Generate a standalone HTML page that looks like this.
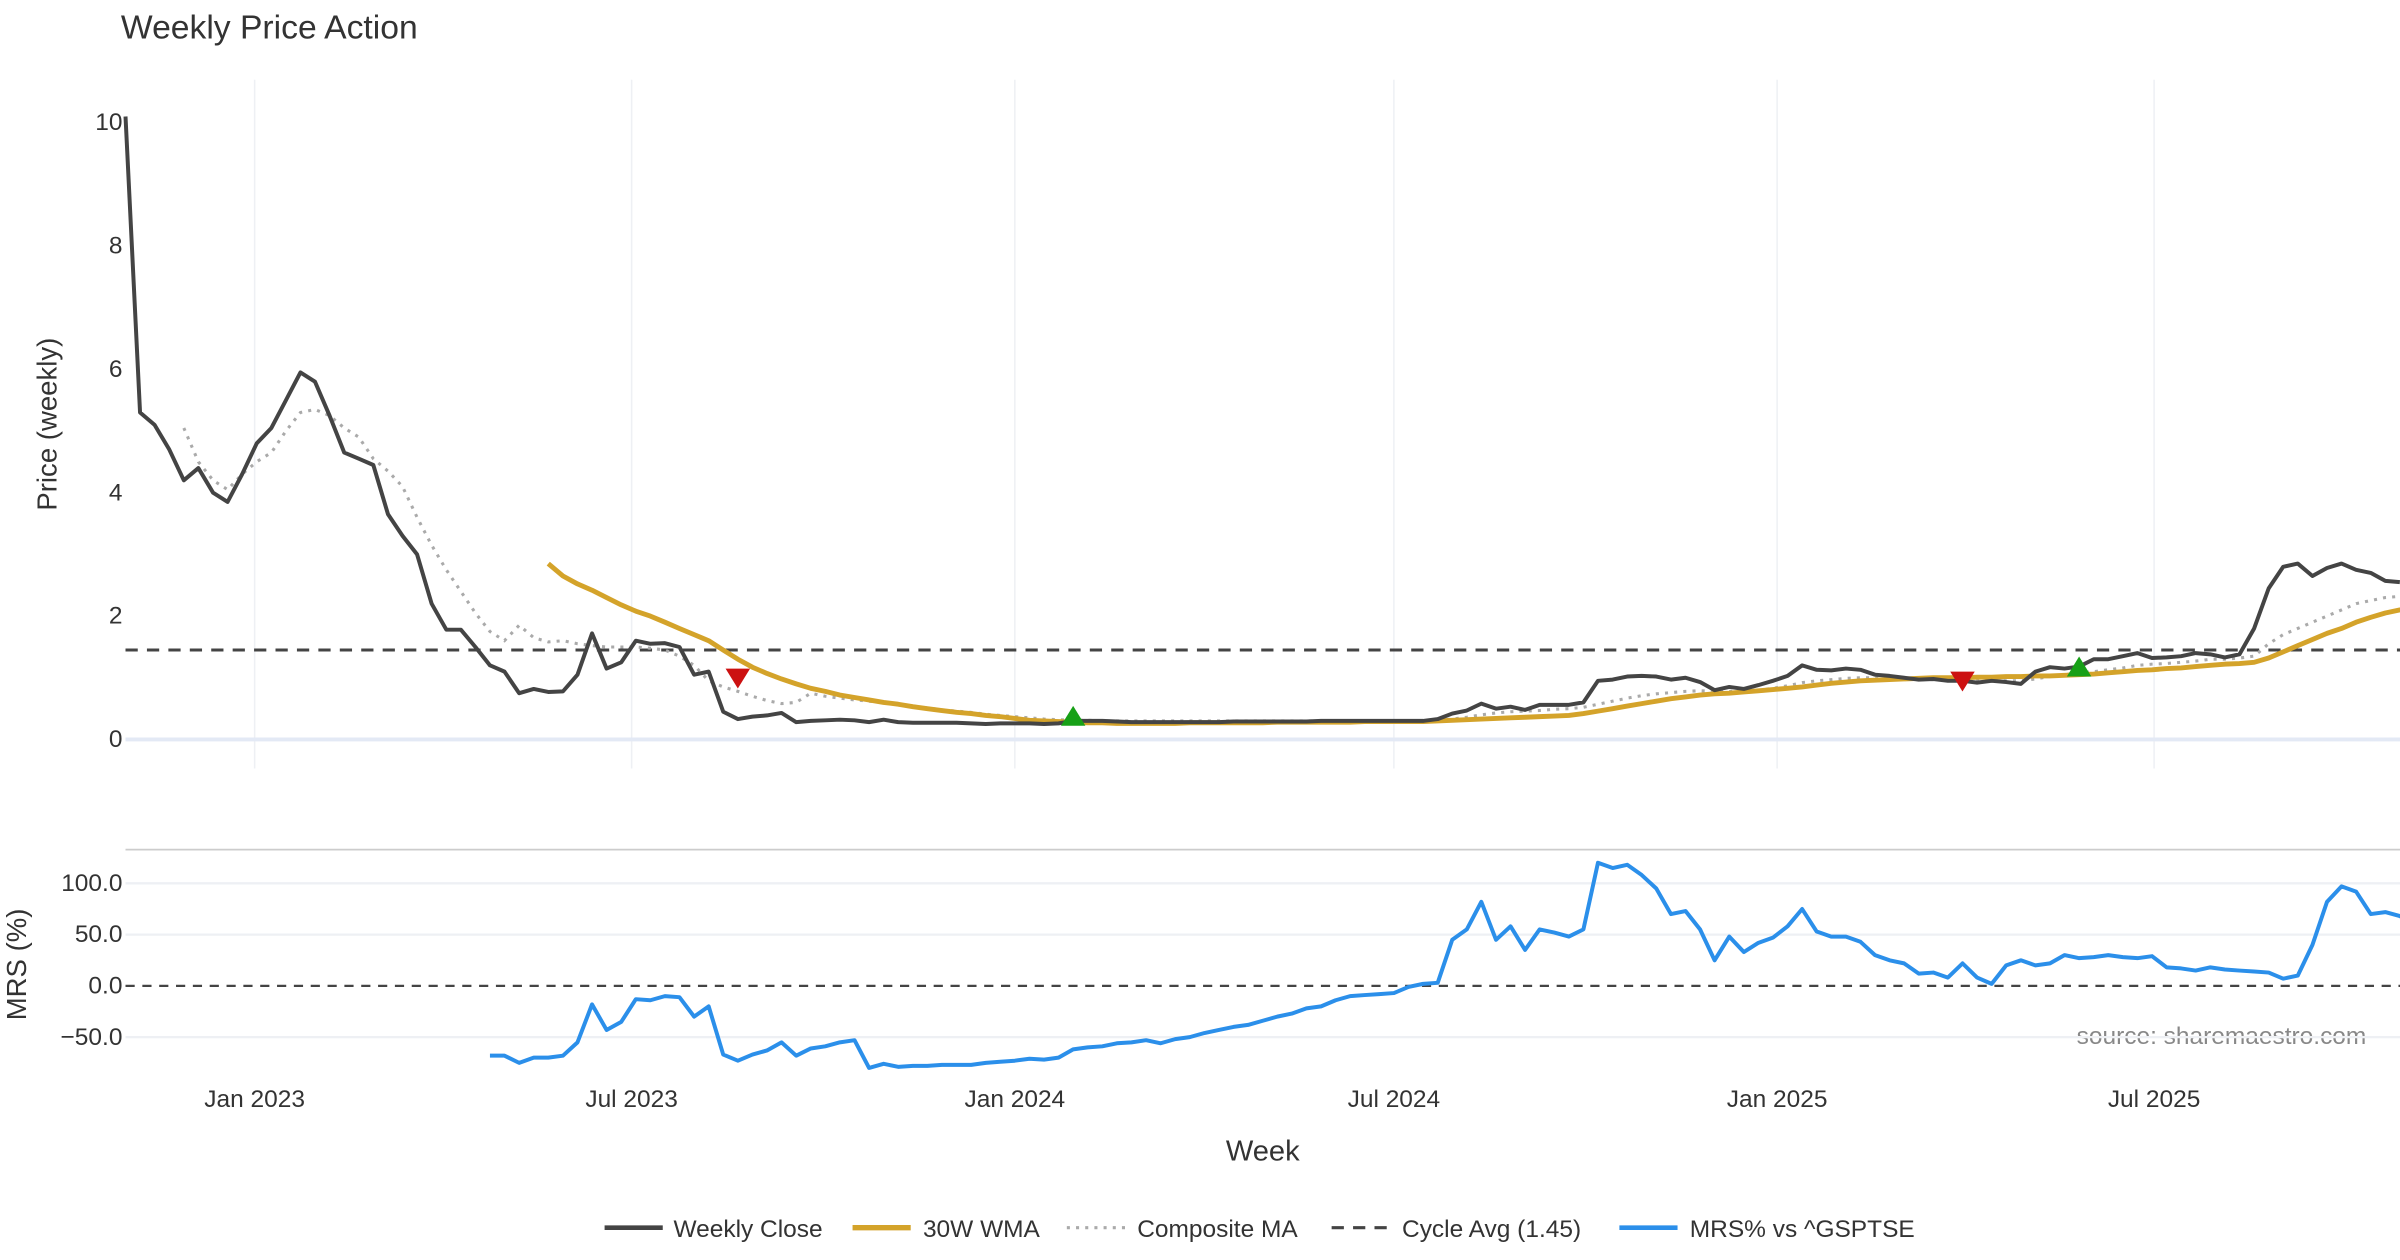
<!DOCTYPE html>
<html><head><meta charset="utf-8"><style>
html,body{margin:0;padding:0;background:#fff}
svg{display:block;font-family:"Liberation Sans","DejaVu Sans",sans-serif}
</style></head><body>
<svg id="chart" width="2400" height="1260" viewBox="0 0 1568 823" xmlns="http://www.w3.org/2000/svg">
<rect width="1568" height="823" fill="#fff"/>
<text x="79" y="25" font-size="22" fill="#333">Weekly Price Action</text>
<text transform="translate(37,277) rotate(-90)" text-anchor="middle" font-size="18" fill="#333">Price (weekly)</text>
<text transform="translate(17,630) rotate(-90)" text-anchor="middle" font-size="18" fill="#333">MRS (%)</text>
<text x="825" y="758" text-anchor="middle" font-size="19" fill="#333">Week</text>
<text x="1546" y="682" text-anchor="end" font-size="16" fill="#888">source: sharemaestro.com</text>
<line x1="82" x2="1568" y1="555" y2="555" stroke="#ccc" stroke-width="1.2"/>
<g id="grid"></g><g id="marks"></g>
<g font-size="16" fill="#333">
 <line x1="395" x2="433" y1="802" y2="802" stroke="#444" stroke-width="3"/><text x="440" y="808">Weekly Close</text>
 <line x1="557" x2="595" y1="802" y2="802" stroke="#d4a32a" stroke-width="3.5"/><text x="603" y="808">30W WMA</text>
 <line x1="697" x2="735" y1="802" y2="802" stroke="#aaa" stroke-width="2" stroke-dasharray="2,4"/><text x="743" y="808">Composite MA</text>
 <line x1="870" x2="908" y1="802" y2="802" stroke="#444" stroke-width="2" stroke-dasharray="8,6"/><text x="916" y="808">Cycle Avg (1.45)</text>
 <line x1="1058" x2="1096" y1="802" y2="802" stroke="#2b8fea" stroke-width="3"/><text x="1104" y="808">MRS% vs ^GSPTSE</text>
</g>
</svg>
<script>
const closeVals=[10.1,5.3,5.1,4.7,4.2,4.4,4.0,3.85,4.3,4.8,5.05,5.5,5.95,5.8,5.25,4.65,4.55,4.45,3.65,3.3,3.0,2.2,1.78,1.78,1.5,1.2,1.1,0.75,0.82,0.77,0.78,1.05,1.72,1.15,1.25,1.6,1.55,1.56,1.5,1.05,1.1,0.45,0.33,0.37,0.39,0.43,0.28,0.3,0.31,0.32,0.31,0.28,0.32,0.28,0.27,0.27,0.27,0.27,0.26,0.25,0.26,0.26,0.26,0.25,0.26,0.3,0.3,0.3,0.29,0.28,0.28,0.28,0.28,0.28,0.28,0.28,0.29,0.29,0.29,0.29,0.29,0.29,0.3,0.3,0.3,0.3,0.3,0.3,0.3,0.3,0.33,0.42,0.47,0.58,0.5,0.53,0.48,0.56,0.56,0.56,0.6,0.95,0.97,1.02,1.03,1.02,0.97,1.0,0.93,0.8,0.85,0.82,0.88,0.95,1.03,1.2,1.13,1.12,1.15,1.13,1.05,1.03,1.0,0.97,0.98,0.95,0.95,0.92,0.95,0.93,0.9,1.1,1.17,1.15,1.18,1.3,1.3,1.35,1.4,1.32,1.33,1.35,1.4,1.38,1.33,1.38,1.8,2.45,2.8,2.85,2.65,2.78,2.85,2.75,2.7,2.57,2.55];
const wmaVals=[null,null,null,null,null,null,null,null,null,null,null,null,null,null,null,null,null,null,null,null,null,null,null,null,null,null,null,null,null,2.85,2.65,2.52,2.42,2.3,2.18,2.08,2.0,1.9,1.8,1.7,1.6,1.45,1.3,1.17,1.07,0.98,0.9,0.83,0.78,0.72,0.68,0.64,0.6,0.57,0.53,0.5,0.47,0.44,0.42,0.39,0.37,0.34,0.31,0.3,0.29,0.28,0.27,0.27,0.26,0.26,0.26,0.26,0.26,0.27,0.27,0.27,0.27,0.27,0.27,0.28,0.28,0.28,0.28,0.28,0.28,0.29,0.29,0.29,0.29,0.29,0.3,0.31,0.32,0.33,0.34,0.35,0.36,0.37,0.38,0.39,0.42,0.46,0.5,0.54,0.58,0.62,0.66,0.69,0.72,0.74,0.75,0.77,0.79,0.81,0.83,0.85,0.88,0.91,0.93,0.95,0.96,0.97,0.98,0.99,1.0,1.0,1.0,1.01,1.01,1.02,1.02,1.03,1.03,1.04,1.05,1.06,1.08,1.1,1.12,1.13,1.15,1.16,1.18,1.2,1.22,1.23,1.25,1.32,1.42,1.52,1.62,1.72,1.8,1.9,1.98,2.05,2.1,2.13];
const compVals=[null,null,null,null,5.05,4.5,4.2,4.05,4.3,4.5,4.65,5.0,5.3,5.35,5.25,5.05,4.9,4.55,4.35,4.1,3.6,3.15,2.75,2.4,2.05,1.75,1.6,1.85,1.65,1.58,1.6,1.55,1.52,1.5,1.5,1.5,1.48,1.45,1.35,1.2,0.95,0.85,0.78,0.7,0.63,0.58,0.6,0.75,0.7,0.67,0.64,0.62,0.6,0.57,0.54,0.51,0.48,0.46,0.44,0.41,0.39,0.37,0.35,0.33,0.32,0.31,0.31,0.3,0.3,0.3,0.3,0.3,0.3,0.3,0.3,0.3,0.3,0.3,0.3,0.3,0.3,0.3,0.3,0.3,0.3,0.3,0.3,0.3,0.3,0.3,0.31,0.33,0.36,0.4,0.43,0.45,0.46,0.47,0.49,0.5,0.52,0.57,0.62,0.67,0.71,0.74,0.76,0.78,0.79,0.78,0.78,0.79,0.8,0.83,0.87,0.92,0.95,0.97,0.99,1.0,1.0,0.99,0.98,0.97,0.97,0.96,0.96,0.95,0.95,0.95,0.95,0.98,1.02,1.05,1.08,1.1,1.13,1.16,1.2,1.22,1.23,1.25,1.27,1.3,1.3,1.32,1.35,1.55,1.7,1.8,1.9,2.0,2.1,2.2,2.25,2.3,2.32,2.34,2.35];
const mrsVals=[-68,-68,-75,-70,-70,-68,-55,-18,-43,-35,-13,-14,-10,-11,-30,-20,-67,-73,-67,-63,-55,-68,-61,-59,-55,-53,-80,-76,-79,-78,-78,-77,-77,-77,-75,-74,-73,-71,-72,-70,-62,-60,-59,-56,-55,-53,-56,-52,-50,-46,-43,-40,-38,-34,-30,-27,-22,-20,-14,-10,-9,-8,-7,-1,2,3,45,55,82,45,58,35,55,52,48,55,120,115,118,108,95,70,73,55,25,48,33,42,47,58,75,53,48,48,43,30,25,22,12,13,8,22,8,2,20,25,20,22,30,27,28,30,28,27,29,18,17,15,18,16,15,14,13,7,10,40,82,97,92,70,72,68,60,50,38,35];
const mrsStart=25;
const signalIdx=[42,65,126,134];
const signalVals=[1.0,0.37,0.95,1.17];
const signalType=["sell","buy","sell","buy"];
const priceTicks=[0,2,4,6,8,10];
const mrsTicks=[100,50,0,-50];
const mrsTickLabels=["100.0","50.0","0.0","\u221250.0"];
const dateTicks=["2023-01-01","2023-07-01","2024-01-01","2024-07-01","2025-01-01","2025-07-01"];
const dateTickLabels=["Jan 2023","Jul 2023","Jan 2024","Jul 2024","Jan 2025","Jul 2025"];
const cycleAvg=1.45;
const startDate="2022-10-31";

const NS="http://www.w3.org/2000/svg";
const X0=82,X1=1568,STEP=9.525;
const xi=i=>X0+i*STEP;
const xd=d=>X0+((new Date(d)-new Date(startDate))/864e5/7)*STEP;
const yp=v=>483-v*40.3;
const ym=v=>644-v*0.67;
function mk(tag,attrs,parent){const e=document.createElementNS(NS,tag);for(const k in attrs)e.setAttribute(k,attrs[k]);parent.appendChild(e);return e;}
const grid=document.getElementById('grid'),marks=document.getElementById('marks');
dateTicks.forEach((d,k)=>{const x=xd(d);
 const g=mk('line',{x1:x,x2:x,y1:52,y2:502,stroke:'#eef0f4','stroke-width':1},grid);
 
 
 const t=mk('text',{x:x,y:723,'text-anchor':'middle','font-size':16,fill:'#333'},grid);t.textContent=dateTickLabels[k];
 
 
});
priceTicks.forEach(v=>{
 if(v===0){const z=mk('line',{x1:X0,x2:X1,y1:yp(0),y2:yp(0),stroke:'#e3e9f5','stroke-width':2.5},grid);}
 const t=mk('text',{x:80,y:yp(v)+5,'text-anchor':'end','font-size':16,fill:'#333'},grid);t.textContent=v;
 
 
});
mrsTicks.forEach((v,k)=>{
 if(v!==0){const g=mk('line',{x1:X0,x2:X1,y1:ym(v),y2:ym(v),stroke:'#eef0f4','stroke-width':1.5},grid);}
 const t=mk('text',{x:80,y:ym(v)+5,'text-anchor':'end','font-size':16,fill:'#333'},grid);t.textContent=mrsTickLabels[k];
 
 
});
const cyc=mk('line',{x1:X0,x2:X1,y1:yp(cycleAvg),y2:yp(cycleAvg),stroke:'#444','stroke-width':2,'stroke-dasharray':'8,6'},marks);


const mz=mk('line',{x1:X0,x2:X1,y1:ym(0),y2:ym(0),stroke:'#444','stroke-width':1.5,'stroke-dasharray':'6,5'},marks);


function pathOf(arr,off,yf){let d='';arr.forEach((v,i)=>{if(v===null||v===undefined)return;d+=(d?'L':'M')+xi(i+off).toFixed(1)+','+yf(v).toFixed(1);});return d;}
const comp=mk('path',{d:pathOf(compVals,0,yp),fill:'none',stroke:'#aaa','stroke-width':2,'stroke-dasharray':'2,4'},marks);


const wma=mk('path',{d:pathOf(wmaVals,0,yp),fill:'none',stroke:'#d4a32a','stroke-width':3.2,'stroke-linejoin':'round'},marks);


const cl=mk('path',{d:pathOf(closeVals,0,yp),fill:'none',stroke:'#444','stroke-width':2.6,'stroke-linejoin':'round'},marks);


const mr=mk('path',{d:pathOf(mrsVals,mrsStart,ym),fill:'none',stroke:'#2b8fea','stroke-width':2.6,'stroke-linejoin':'round'},marks);


signalIdx.forEach((i,k)=>{const x=xi(i),y=yp(signalVals[k]);let p;
 if(signalType[k]==='sell'){p=mk('polygon',{points:`${x-8},${y-6} ${x+8},${y-6} ${x},${y+7}`,fill:'#cc1111'},marks);}
 else{p=mk('polygon',{points:`${x-8},${y+6} ${x+8},${y+6} ${x},${y-7}`,fill:'#17a017'},marks);}
 
 
});
</script>
</body></html>
